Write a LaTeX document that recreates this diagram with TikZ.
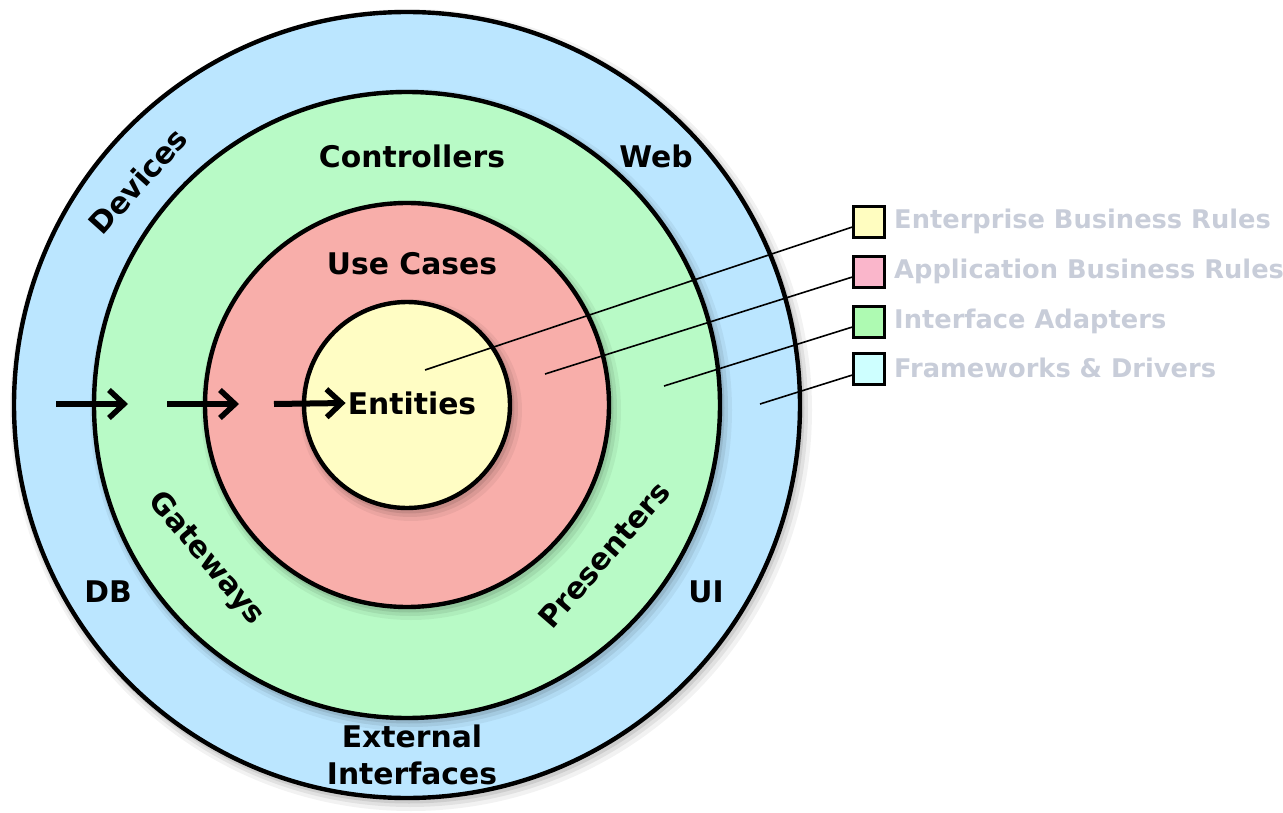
\documentclass[tikz,border=0pt]{standalone}
\usepackage{fontspec}
\setmainfont{DejaVu Sans}
\usetikzlibrary{arrows.meta}
\definecolor{ringouter}{HTML}{BBE6FF}
\definecolor{ringadapt}{HTML}{B8FAC6}
\definecolor{ringcase}{HTML}{F8AEAA}
\definecolor{ringcore}{HTML}{FFFDC4}
\definecolor{legyellow}{HTML}{FFFDC0}
\definecolor{legpink}{HTML}{FAB6CB}
\definecolor{leggreen}{HTML}{AEFAB2}
\definecolor{legcyan}{HTML}{CEFFFF}
\definecolor{legtext}{HTML}{C8CDD9}
\begin{document}
\begin{tikzpicture}[x=1pt,y=-1pt,
  lbl/.style={font=\fontsize{29.8}{37}\selectfont\bfseries, align=center, inner sep=0pt},
  legbox/.style={draw=black, line width=2.2pt, minimum size=31pt, inner sep=0pt},
  legtxt/.style={font=\fontsize{25.7}{30}\selectfont\bfseries, text=legtext, anchor=west, inner sep=0pt},
  ring/.style={draw=black, line width=4.4pt},
  flow/.style={line width=6pt, -{Straight Barb[length=15pt, width=28pt, line width=5.5pt]}}]
\useasboundingbox (0,0) rectangle (1283,813);
\foreach \r in {393,313,202,103}{
  \fill[black, opacity=0.05] (411,410) circle (\r+8);
  \fill[black, opacity=0.07] (410,409) circle (\r+5);
  \fill[black, opacity=0.09] (409,408) circle (\r+2.5);
}
\filldraw[ring, fill=ringouter] (407,405) circle (393);
\foreach \r in {313,202,103}{
  \fill[black, opacity=0.05] (411,410) circle (\r+8);
  \fill[black, opacity=0.07] (410,409) circle (\r+5);
  \fill[black, opacity=0.09] (409,408) circle (\r+2.5);
}
\filldraw[ring, fill=ringadapt] (407,405) circle (313);
\foreach \r in {202,103}{
  \fill[black, opacity=0.05] (411,410) circle (\r+8);
  \fill[black, opacity=0.07] (410,409) circle (\r+5);
  \fill[black, opacity=0.09] (409,408) circle (\r+2.5);
}
\filldraw[ring, fill=ringcase] (407,405) circle (202);
\fill[black, opacity=0.05] (411,410) circle (111);
\fill[black, opacity=0.07] (410,409) circle (108);
\fill[black, opacity=0.09] (409,408) circle (105.5);
\filldraw[ring, fill=ringcore] (407,405) circle (103);

\node[lbl] (entities) at (412,403) {Entities};
\node[lbl] (usecases) at (412,264) {Use Cases};
\node[lbl] (controllers) at (412,156) {Controllers};
\node[lbl] (web) at (656,156) {Web};
\node[lbl, rotate=48] (devices) at (138,181) {Devices};
\node[lbl, rotate=-50] (gateways) at (206,559) {Gateways};
\node[lbl, rotate=49] (presenters) at (604,555) {Presenters};
\node[lbl] (db) at (108,592) {DB};
\node[lbl] (ui) at (706,592) {UI};
\node[lbl] (external) at (412,755) {External\\Interfaces};

\coordinate (s1) at (56,404);
\coordinate (e1) at (128,404);
\coordinate (s2) at (167,404);
\coordinate (e2) at (239,404);
\coordinate (s3) at (274,404);
\draw[flow] (s1) -- (e1);
\draw[flow] (s2) -- (e2);
\draw[flow] (s3) -- ([xshift=-2pt]entities.west);

\node[legbox, fill=legyellow] (ebr) at (869,222) {};
\node[legbox, fill=legpink] (abr) at (869,272) {};
\node[legbox, fill=leggreen] (iad) at (869,322) {};
\node[legbox, fill=legcyan] (fdr) at (869,369) {};
\node[legtxt] (ebrtxt) at (894,221) {Enterprise Business Rules};
\node[legtxt] (abrtxt) at (894,271) {Application Business Rules};
\node[legtxt] (iadtxt) at (894,321) {Interface Adapters};
\node[legtxt] (fdrtxt) at (894,368) {Frameworks \& Drivers};

\coordinate (pcore) at (425,370);
\coordinate (pcase) at (545,374);
\coordinate (padapt) at (664,386);
\coordinate (pouter) at (760,404);
\draw[line width=1.6pt] ([yshift=-5pt]ebr.west) -- (pcore);
\draw[line width=1.6pt] ([yshift=-5pt]abr.west) -- (pcase);
\draw[line width=1.6pt] ([yshift=-5pt]iad.west) -- (padapt);
\draw[line width=1.6pt] ([yshift=-6pt]fdr.west) -- (pouter);
\end{tikzpicture}
\end{document}
